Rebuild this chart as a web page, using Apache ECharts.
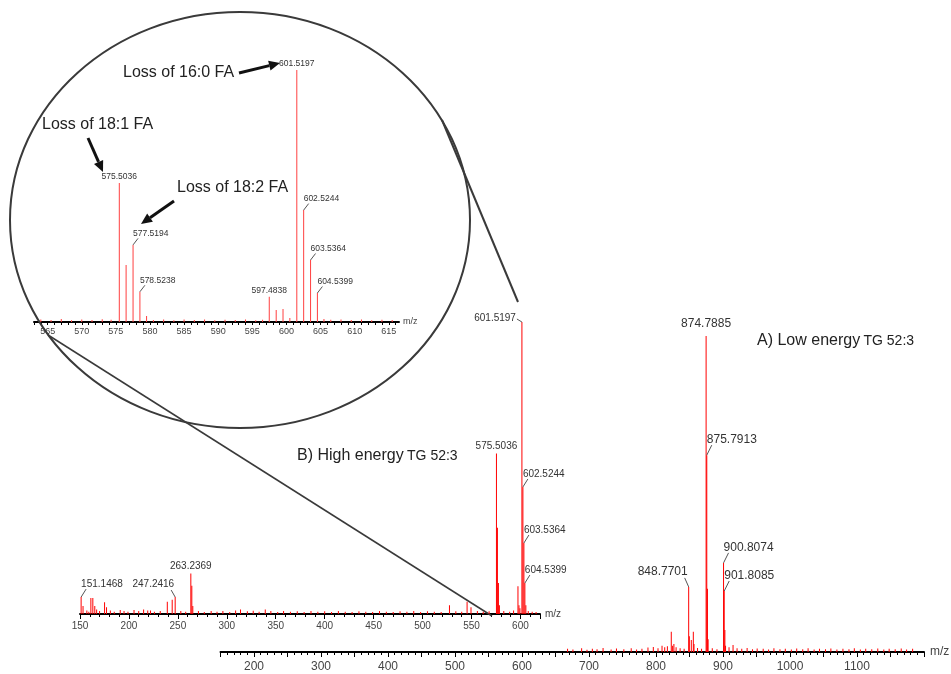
<!DOCTYPE html>
<html><head><meta charset="utf-8">
<script src="https://cdn.jsdelivr.net/npm/echarts@6/dist/echarts.min.js"></script>
<style>html,body{margin:0;padding:0;background:#fff}#c{width:951px;height:674px}</style>
</head><body><div id="c"></div>
<script>
// ---------- A) Low energy spectrum ----------
const lowMz  = [822.8, 824.8, 826.7, 848.7701, 849.77, 852.7, 855.7, 856.7, 874.7885, 875.7913, 876.79, 877.8, 900.8074, 901.8085, 902.81, 903.8];
const lowInt = [6.4, 2.0, 2.5, 20.6, 5.0, 3.8, 6.4, 2.5, 100, 62.3, 20, 4, 28.2, 19.3, 7, 2];
const lowNoiseMz  = [668,676,689,697,705,712,721,733,741,752,763,771,779,788,796,803,809,813,817,830,836,842,862,868,884,891,909,915,921,928,936,944,951,960,968,976,985,993,1002,1010,1019,1027,1036,1044,1053,1061,1070,1079,1088,1096,1105,1113,1122,1131,1140,1148,1157,1166,1174,1183];
const lowNoiseInt = [1,0.8,1.2,0.7,1,0.9,1.3,0.8,1.1,0.9,1.2,0.8,1.0,1.4,1.6,1.2,2.0,1.5,1.8,1.5,1.2,1.0,1.3,1.0,1.2,0.9,1.5,2.2,1.2,1.0,1.3,0.9,1.1,1.0,0.8,1.2,0.9,1.0,0.8,1.1,0.9,1.2,0.8,1.0,0.9,1.1,0.8,1.0,0.9,1.2,0.8,1.0,0.9,1.1,0.8,1.0,0.9,1.1,0.8,1.0];
const lowLabelMz = [874.7885, 875.7913, 848.7701, 900.8074, 901.8085];
const lowTicks = [200,300,400,500,600,700,800,900,1000,1100];

// ---------- B) High energy spectrum ----------
const highMz  = [151.1468, 153.1, 161.1, 163.1, 165.1, 175.1, 177.1, 191.1, 205.2, 219.2, 239.2, 244.2, 247.2416, 263.2369, 264.24, 265.25, 339.3, 527.5, 545.5, 549.5, 575.5036, 576.5, 577.52, 578.52, 597.48, 598.5, 599.5, 601.5197, 602.5244, 603.5364, 604.5399, 605.55];
const highInt = [5.8, 2.7, 5.5, 5.5, 2.7, 4.0, 2.3, 1.4, 1.4, 1.2, 4.2, 4.9, 5.8, 13.9, 9.7, 2.7, 1.5, 3.0, 4.2, 2.3, 55, 29.5, 10.6, 3.0, 9.5, 3.0, 2.0, 100, 43.5, 24.3, 10.6, 3.0];
const highNoiseMz  = [157,159,167,170,181,185,195,199,210,215,222,226,232,253,258,271,277,284,290,296,303,309,314,321,327,333,345,352,358,365,372,379,386,393,400,407,414,421,428,435,442,449,456,463,470,477,484,491,498,505,512,519,534,540,556,562,568,583,589,593,608,612,616];
const highNoiseInt = [1.2,0.8,1.5,1,1.2,0.8,1,0.8,1,1.5,1.2,0.8,1,1,0.8,1,0.7,1,0.8,1,0.7,1.2,1.5,0.9,1.1,0.8,1,0.7,1,0.8,0.9,0.7,1,0.8,0.9,0.7,1,0.8,0.7,0.9,0.8,0.7,1,0.8,0.7,0.9,0.8,1,0.7,0.9,0.8,0.7,0.9,0.8,1,0.8,0.9,1,0.8,1.2,1,0.8,0.7];
const highLabelMz = [151.1468, 247.2416, 263.2369, 575.5036, 601.5197, 602.5244, 603.5364, 604.5399];
const highTicks = [150,200,250,300,350,400,450,500,550,600];

// ---------- Zoomed inset ----------
const insetMz  = [575.5036, 576.5, 577.5194, 578.5238, 579.5, 597.4838, 598.5, 599.5, 600.5, 601.5197, 602.5244, 603.5364, 604.5399];
const insetInt = [55.2, 22.6, 30.6, 12, 2.4, 10, 4.8, 5.2, 1.6, 100, 44.4, 24.6, 11.5];
const insetNoiseMz  = [564,565.5,567,568.5,570,571.5,573,574.3,580.5,582,583.5,585,586.5,588,589.5,591,592.5,594,595.5,596.5,605.5,606.5,608,609.5,611,612.5,614,615.5];
const insetNoiseInt = [1,0.8,1.2,0.7,1,0.8,1.1,0.9,0.8,1,0.7,1,0.8,1,0.7,0.9,0.8,1,0.7,0.9,1.2,0.9,1,0.8,1,0.7,0.9,0.8];
const insetLabelMz = [575.5036, 577.5194, 578.5238, 597.4838, 601.5197, 602.5244, 603.5364, 604.5399];
const insetTicks = [565,570,575,580,585,590,595,600,605,610,615];

// label placement modes (style, not data)
const lowLabelMode   = ['top','right','left','right','right'];
const highLabelMode  = ['right','left','top','top','side','right','right','right'];
const insetLabelMode = ['top','right','right','top','top','right','right','right'];

const FONT = 'Liberation Sans, Arial, sans-serif';
const RED = '#ff0000';

function zip(a,b){return a.map((v,i)=>[v,b[i]]);}
function lookup(mzArr,intArr,m){const i=mzArr.indexOf(m);return intArr[i];}

function stickSeries(grid, data, color){
  return {type:'bar', xAxisIndex:grid, yAxisIndex:grid, data, z:3, silent:true,
    barWidth:1, barGap:'-100%', itemStyle:{color:color}, emphasis:{disabled:true}};
}
function labelSeries(grid, labMz, mzArr, intArr, modes, fs, topGap){
  const data = labMz.map(m=>[m, lookup(mzArr,intArr,m)]);
  return {type:'custom', xAxisIndex:grid, yAxisIndex:grid, data, z:5, silent:true,
    renderItem:(p,api)=>{
      const m=api.value(0); const c=api.coord([m,api.value(1)]);
      const x=c[0], y=c[1]; const mode=modes[p.dataIndex];
      const txt=m.toFixed(4); const d=fs+3;
      const font=fs+'px '+FONT; const col='#333';
      const ch=[];
      if(mode==='top'){
        ch.push({type:'text',x:x,y:y-topGap,style:{text:txt,font,fill:col,align:'center',verticalAlign:'bottom'}});
      } else if(mode==='right'){
        ch.push({type:'line',shape:{x1:x,y1:y,x2:x+5,y2:y-d+5},style:{stroke:'#555',lineWidth:1}});
        ch.push({type:'text',x:x,y:y-d,style:{text:txt,font,fill:col,align:'left',verticalAlign:'middle'}});
      } else if(mode==='left'){
        ch.push({type:'line',shape:{x1:x,y1:y,x2:x-4,y2:y-d+6},style:{stroke:'#555',lineWidth:1}});
        ch.push({type:'text',x:x-1,y:y-d,style:{text:txt,font,fill:col,align:'right',verticalAlign:'middle'}});
      } else {
        ch.push({type:'line',shape:{x1:x,y1:y,x2:x-5,y2:y-3},style:{stroke:'#555',lineWidth:1}});
        ch.push({type:'text',x:x-6,y:y-4,style:{text:txt,font,fill:col,align:'right',verticalAlign:'middle'}});
      }
      return {type:'group',children:ch};
    }};
}
function xAxisCfg(grid,min,max,interval,ticks,fs,margin,minor,nameGap){
  return {gridIndex:grid,type:'value',min,max,interval,
    axisLine:{onZero:false,lineStyle:{color:'#000',width:2}},
    axisTick:{length:minor?5:3,lineStyle:{color:'#000',width:1}},
    minorTick:{show:!!minor,splitNumber:minor||5,length:3,lineStyle:{color:'#000',width:1}},
    axisLabel:{formatter:v=>ticks.includes(v)?String(v):'',fontSize:fs,color:'#444',margin,fontFamily:FONT,showMaxLabel:false},
    splitLine:{show:false},
    name:'m/z',nameLocation:'end',nameGap,nameTextStyle:{fontSize:fs,color:'#444',fontFamily:FONT}};
}
function yAxisCfg(grid){return {gridIndex:grid,type:'value',min:0,max:100,show:false};}

function arrow(x1,y1,x2,y2){
  const ang=Math.atan2(y2-y1,x2-x1), L=11, W=5;
  const bx=x2-L*Math.cos(ang), by=y2-L*Math.sin(ang);
  const px=-Math.sin(ang), py=Math.cos(ang);
  return [
    {type:'line',shape:{x1,y1,x2:bx,y2:by},style:{stroke:'#111',lineWidth:3}},
    {type:'polygon',shape:{points:[[x2,y2],[bx+px*W,by+py*W],[bx-px*W,by-py*W]]},style:{fill:'#111'}}
  ];
}

const chart = echarts.init(document.getElementById('c'),null,{renderer:'canvas'});
const graphics = [
  {type:'ellipse',shape:{cx:240,cy:220,rx:230,ry:208},style:{fill:'none',stroke:'#3a3a3a',lineWidth:2},z:1},
  {type:'line',shape:{x1:48,y1:335,x2:492,y2:616},style:{stroke:'#3a3a3a',lineWidth:1.5},z:1},
  {type:'line',shape:{x1:442,y1:120,x2:518,y2:302},style:{stroke:'#3a3a3a',lineWidth:2},z:1},
  {type:'text',x:123,y:73,style:{text:'Loss of 16:0 FA',font:'16px '+FONT,fill:'#222',align:'left',verticalAlign:'middle'},z:6},
  {type:'text',x:42,y:125,style:{text:'Loss of 18:1 FA',font:'16px '+FONT,fill:'#222',align:'left',verticalAlign:'middle'},z:6},
  {type:'text',x:177,y:188,style:{text:'Loss of 18:2 FA',font:'16px '+FONT,fill:'#222',align:'left',verticalAlign:'middle'},z:6},
  ...arrow(239,73,280,63), ...arrow(88,138,103,172), ...arrow(174,201,141,224),
  {type:'text',x:757,y:341,style:{text:'{a|A) Low energy} {b|TG 52:3}',rich:{a:{fontSize:16,fontFamily:FONT,fill:'#222'},b:{fontSize:14,fontFamily:FONT,fill:'#222'}},align:'left',verticalAlign:'middle'},z:6},
  {type:'text',x:297,y:456,style:{text:'{a|B) High energy} {b|TG 52:3}',rich:{a:{fontSize:16,fontFamily:FONT,fill:'#222'},b:{fontSize:14,fontFamily:FONT,fill:'#222'}},align:'left',verticalAlign:'middle'},z:6}
].map(g=>Object.assign({silent:true},g));

chart.setOption({
  animation:false,
  backgroundColor:'#fff',
  grid:[
    {left:220.5,right:27,top:336,bottom:22},
    {left:80,right:411,top:322,bottom:60},
    {left:34,right:552,top:70,bottom:352}
  ],
  xAxis:[
    xAxisCfg(0,150,1200,50,lowTicks,12,9,5,6),
    xAxisCfg(1,150,620,50,highTicks,10,7,5,5),
    xAxisCfg(2,563,616.5,1,insetTicks,9,5,0,4)
  ],
  yAxis:[yAxisCfg(0),yAxisCfg(1),yAxisCfg(2)],
  graphic:graphics,
  series:[
    stickSeries(0, zip(lowMz,lowInt).concat(zip(lowNoiseMz,lowNoiseInt)), RED),
    labelSeries(0, lowLabelMz, lowMz, lowInt, lowLabelMode, 12, 6),
    stickSeries(1, zip(highMz,highInt).concat(zip(highNoiseMz,highNoiseInt)), RED),
    labelSeries(1, highLabelMz, highMz, highInt, highLabelMode, 10, 2),
    stickSeries(2, zip(insetMz,insetInt).concat(zip(insetNoiseMz,insetNoiseInt)), '#ff4040'),
    labelSeries(2, insetLabelMz, insetMz, insetInt, insetLabelMode, 8.5, 2)
  ]
});
</script></body></html>
